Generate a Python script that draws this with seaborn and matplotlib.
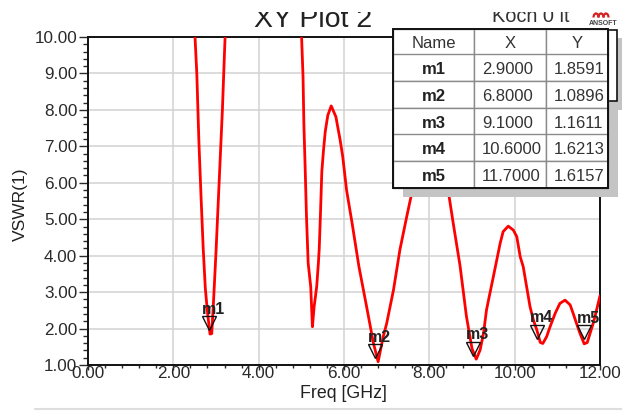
import numpy as np
import pandas as pd
import seaborn as sns
import matplotlib
matplotlib.use("Agg")
import matplotlib.pyplot as plt
from matplotlib.ticker import MultipleLocator, FormatStrFormatter
from matplotlib.patches import Rectangle, Arc
from matplotlib.transforms import ScaledTranslation

# ---------------- data ----------------
freq = [2.40, 2.50, 2.55, 2.60, 2.65, 2.70, 2.75, 2.80, 2.86, 2.90, 2.94, 3.00, 3.05,
        3.10, 3.15, 3.20, 3.28, 3.60, 4.20, 4.70, 4.95,
        5.00, 5.04, 5.06, 5.09, 5.12, 5.16, 5.22, 5.24, 5.26, 5.30, 5.36, 5.40, 5.42,
        5.45, 5.48, 5.52, 5.56, 5.62, 5.70, 5.81, 5.91, 5.97, 6.06, 6.19, 6.35, 6.53,
        6.69, 6.80, 6.92, 7.00, 7.16, 7.31, 7.47, 7.62, 7.75, 7.90, 8.03, 8.18, 8.32,
        8.44, 8.56, 8.72, 8.87, 9.00, 9.10, 9.19, 9.27, 9.34, 9.42, 9.50, 9.58, 9.66,
        9.73, 9.85, 9.97, 10.05, 10.13, 10.20, 10.28, 10.36, 10.44, 10.52, 10.60,
        10.66, 10.75, 10.83, 10.95, 11.06, 11.18, 11.30, 11.37, 11.45, 11.53, 11.63,
        11.70, 11.84, 11.92, 12.00]
vswr = [13.5, 10.2, 9.0, 7.1, 5.6, 4.2, 3.1, 2.45, 1.85, 1.86, 2.70, 4.10, 5.40,
        6.70, 8.00, 9.60, 12.0, 20.0, 25.0, 18.0, 11.5,
        10.2, 8.9, 7.6, 6.4, 5.1, 3.8, 3.15, 2.60, 2.05, 2.60, 3.15, 3.80, 4.20,
        5.20, 6.30, 6.90, 7.40, 7.85, 8.11, 7.81, 7.17, 6.72, 5.80, 4.89, 3.70, 2.60,
        1.60, 1.09, 1.78, 2.14, 3.06, 4.16, 5.07, 5.89, 6.40, 6.75, 6.82, 6.70, 6.35,
        5.80, 4.89, 3.72, 2.33, 1.45, 1.16, 1.41, 1.87, 2.51, 2.97, 3.42, 3.88, 4.34,
        4.66, 4.81, 4.70, 4.52, 3.97, 3.70, 3.15, 2.60, 2.23, 1.96, 1.62,
        1.59, 1.78, 2.05, 2.42, 2.69, 2.78, 2.65, 2.42, 2.14, 1.87, 1.58,
        1.6157, 2.14, 2.51, 2.90]

marker_names = ["m1", "m2", "m3", "m4", "m5"]
marker_x = [2.9, 6.8, 9.1, 10.6, 11.7]
marker_y = [1.8591, 1.0896, 1.1611, 1.6213, 1.6157]
marker_x_text = ["2.9000", "6.8000", "9.1000", "10.6000", "11.7000"]
marker_y_text = ["1.8591", "1.0896", "1.1611", "1.6213", "1.6157"]
table_header = ["Name", "X", "Y"]

x_ticks = [0, 2, 4, 6, 8, 10, 12]
y_ticks = [1, 2, 3, 4, 5, 6, 7, 8, 9, 10]

title = "XY Plot 2"
project = "Koch 0 it"
xlabel = "Freq [GHz]"
ylabel = "VSWR(1)"

# ---------------- figure ----------------
sns.set_theme(style="white")
plt.rcParams['font.family'] = ['Liberation Sans', 'DejaVu Sans']

W, H = 622, 413
fig = plt.figure(figsize=(W / 100, H / 100), dpi=100)
fig.patch.set_facecolor("white")

def fx(px):
    return px / W

def fy(py):
    return 1 - py / H

L, R, T, B = 88, 600, 37, 365
ax = fig.add_axes([fx(L), fy(B), fx(R) - fx(L), fy(T) - fy(B)])
ax.set_facecolor("white")

df = pd.DataFrame({"Freq": freq, "VSWR": vswr})
sns.lineplot(data=df, x="Freq", y="VSWR", sort=False, color="#ff0000",
             linewidth=2.0, ax=ax, zorder=3)

ax.set_xlim(0, 12)
ax.set_ylim(1, 10)
ax.set_xticks(x_ticks)
ax.set_yticks(y_ticks)
ax.xaxis.set_major_formatter(FormatStrFormatter("%.2f"))
ax.yaxis.set_major_formatter(FormatStrFormatter("%.2f"))
ax.xaxis.set_minor_locator(MultipleLocator(0.4))
ax.yaxis.set_minor_locator(MultipleLocator(0.2))

ax.grid(True, which="major", color="#d2d2d2", linewidth=1.1, zorder=0)
for s in ax.spines.values():
    s.set_color("#111111")
    s.set_linewidth(1.4)
    s.set_visible(True)

tick_col = "#2a2a2a"
ax.tick_params(axis="y", which="major", direction="out", length=6.5, width=1.0,
               color=tick_col, labelsize=12.3, labelcolor=tick_col, pad=1.2, left=True)
ax.tick_params(axis="y", which="minor", direction="out", length=3.6, width=1.0,
               color=tick_col, left=True)
ax.tick_params(axis="x", which="major", direction="out", length=3.6, width=1.0,
               color=tick_col, labelsize=12.3, labelcolor=tick_col, pad=-3.0, bottom=True)
ax.tick_params(axis="x", which="minor", direction="out", length=2.2, width=1.0,
               color=tick_col, bottom=True)

ax.set_xlabel(xlabel, fontsize=12.8, color="#222222", va="center")
ax.xaxis.set_label_coords(0.498, -(394 - B) / (B - T))
ax.set_ylabel(ylabel, fontsize=12.5, color="#222222", va="center")
ax.yaxis.set_label_coords(-(L - 20) / (R - L), (B - 204) / (B - T))

# markers (inverted triangles with tip at the marker point)
off = ScaledTranslation(-3 / 100, 10.5 / 100, fig.dpi_scale_trans)
ax.plot(marker_x, marker_y, linestyle="none", marker="v", markersize=9.5,
        markerfacecolor="none", markeredgecolor="#111111", markeredgewidth=1.0,
        transform=ax.transData + off, zorder=5, clip_on=False)
for n, mx, my in zip(marker_names, marker_x, marker_y):
    ax.annotate(n, xy=(mx, my), xytext=(-10, 20), textcoords="offset pixels",
                ha="left", va="baseline", fontsize=11.5, fontweight="bold",
                color="#222222", zorder=6, annotation_clip=False)

# ---------------- figure-level decorations (pixel coordinates) ----------------
def add_rect(x0, y0, x1, y1, z, fc, ec="none", lw=0.0):
    p = Rectangle((fx(x0), fy(y1)), fx(x1) - fx(x0), fy(y0) - fy(y1),
                  transform=fig.transFigure, facecolor=fc, edgecolor=ec,
                  linewidth=lw, zorder=z)
    fig.patches.append(p)
    p.set_figure(fig)
    return p

def add_text(x, y, s, z, **kw):
    fig.text(fx(x), fy(y), s, zorder=z, **kw)

# title and project name (tops clipped like the reference)
add_text(313, 26.7, title, 1, ha="center", va="baseline", fontsize=20.5, color="#222222")
add_text(531, 22, project, 1, ha="center", va="baseline", fontsize=14.4, color="#333333")
add_rect(0, 0, W, 11.5, 20, "white")

# ANSOFT logo
for cx in [596, 601, 606]:
    arc = Arc((fx(cx), fy(17.5)), fx(5), fy(13) - fy(21), theta1=0, theta2=180,
              transform=fig.transFigure, color="#d42020", linewidth=1.6, zorder=21)
    fig.patches.append(arc)
    arc.set_figure(fig)
add_text(603, 25, "ANSOFT", 21, ha="center", va="baseline", fontsize=5,
         fontweight="bold", color="#444444")

# table shadow, legend box behind, marker table
add_rect(403, 38, 618, 197, 10, "#c4c4c4")
add_rect(590, 38, 622, 110, 10, "#c4c4c4")
add_rect(575, 30, 617, 101, 10, "white", "#111111", 1.2)

col_edges = [393, 474, 546, 608]
row_edges = [29, 54.5, 81, 107.5, 134.5, 161, 188]
rows = [table_header] + [[n, xt, yt] for n, xt, yt in
                         zip(marker_names, marker_x_text, marker_y_text)]
for r, row in enumerate(rows):
    y0, y1 = row_edges[r], row_edges[r + 1]
    yc = (y0 + y1) / 2 + 0.5
    for c, val in enumerate(row):
        x0, x1 = col_edges[c], col_edges[c + 1]
        add_rect(x0, y0, x1, y1, 10, "white", "#8a8a8a", 1.0)
        if r == 0 or c == 0:
            add_text((x0 + x1) / 2, yc, val, 11, ha="center", va="center_baseline",
                     fontsize=12, color="#222222" if r > 0 else "#333333",
                     fontweight="bold" if (r > 0 and c == 0) else "normal")
        else:
            add_text(x0 + 8, yc, val, 11, ha="left", va="center_baseline",
                     fontsize=12, color="#333333")
add_rect(col_edges[0], row_edges[0], col_edges[-1], row_edges[-1], 12, "none",
         "#111111", 1.4)

# faint screenshot border line at the bottom
fig.add_artist(plt.Line2D([fx(35), 1], [fy(409), fy(409)], color="#dedede",
                          linewidth=1.5, transform=fig.transFigure, zorder=1))

fig.savefig("out.png", dpi=100, facecolor="white")
